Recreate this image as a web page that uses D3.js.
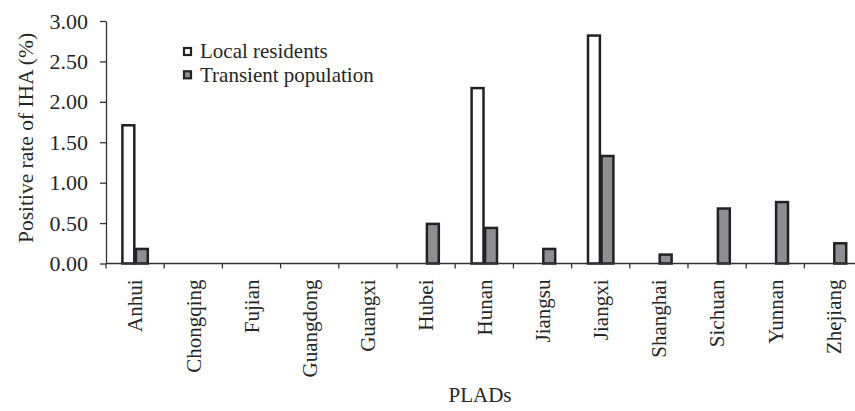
<!DOCTYPE html>
<html>
<head>
<meta charset="utf-8">
<script src="https://cdn.jsdelivr.net/npm/d3@7"></script>
<style>
  body { margin: 0; background: #fff; }
  text { font-family: "Liberation Serif", "Times New Roman", serif; fill: #262626; }
</style>
</head>
<body>
<div id="chart"></div>
<script>
var provinces = ["Anhui", "Chongqing", "Fujian", "Guangdong", "Guangxi", "Hubei", "Hunan",
                 "Jiangsu", "Jiangxi", "Shanghai", "Sichuan", "Yunnan", "Zhejiang"];
var series = ["Local residents", "Transient population"];
var localResidents = [1.71, 0, 0, 0, 0, 0, 2.17, 0, 2.82, 0, 0, 0, 0];
var transientPop   = [0.18, 0, 0, 0, 0, 0.49, 0.44, 0.18, 1.33, 0.11, 0.68, 0.76, 0.25];
var yTicks = [0, 0.5, 1, 1.5, 2, 2.5, 3];

var width = 855, height = 411,
    margin = {top: 21, left: 106, bottom: 147.5};
var plotBottom = height - margin.bottom;

var svg = d3.select("#chart").append("svg")
    .attr("width", width)
    .attr("height", height);

var x = d3.scaleBand()
    .domain(provinces)
    .range([margin.left, margin.left + 58.2 * provinces.length]);

var y = d3.scaleLinear()
    .domain([0, 3])
    .range([plotBottom, margin.top]);

var colors = d3.scaleOrdinal().domain(series).range(["#ffffff", "#8f8f91"]);

// pairs of bars, 27px wide centered in each band
var sub = d3.scaleBand().domain(series).range([-13.5, 13.5]);

var rows = provinces.map(function(p, i) {
    return {prov: p, vals: [localResidents[i], transientPop[i]]};
});

var groups = svg.append("g").selectAll("g")
    .data(rows)
    .enter().append("g")
    .attr("transform", function(d) { return "translate(" + (x(d.prov) + x.bandwidth() / 2) + ",0)"; });

groups.selectAll("rect")
    .data(function(d) {
        return d.vals.map(function(v, j) { return {s: series[j], v: v}; })
            .filter(function(e) { return e.v > 0; });
    })
    .enter().append("rect")
        .attr("x", function(d) { return sub(d.s) + 0.8; })
        .attr("width", sub.bandwidth() - 1.6)
        .attr("y", function(d) { return y(d.v); })
        .attr("height", function(d) { return plotBottom - y(d.v); })
        .attr("fill", function(d) { return colors(d.s); })
        .attr("stroke", "#222")
        .attr("stroke-width", 2.5);

// y axis
var yAxis = svg.append("g")
    .attr("transform", "translate(" + margin.left + ",0)")
    .call(d3.axisLeft(y).tickValues(yTicks).tickFormat(d3.format(".2f"))
        .tickSize(6).tickSizeOuter(0).tickPadding(12));
yAxis.select(".domain").attr("stroke", "#333").attr("stroke-width", 1.3);
yAxis.selectAll(".tick line").attr("stroke", "#333").attr("stroke-width", 1.3);
yAxis.selectAll(".tick text")
    .style("font-family", "Liberation Serif, serif")
    .style("font-size", "22px")
    .attr("fill", "#262626");

// x axis: ticks at band boundaries
var xAxis = svg.append("g");
xAxis.append("line")
    .attr("x1", margin.left).attr("x2", width)
    .attr("y1", plotBottom).attr("y2", plotBottom)
    .attr("stroke", "#333").attr("stroke-width", 1.3);
xAxis.selectAll("line.tk")
    .data(provinces)
    .enter().append("line")
        .attr("class", "tk")
        .attr("x1", function(d) { return x(d); })
        .attr("x2", function(d) { return x(d); })
        .attr("y1", plotBottom).attr("y2", plotBottom + 5)
        .attr("stroke", "#333").attr("stroke-width", 1.3);

xAxis.selectAll("text")
    .data(provinces)
    .enter().append("text")
        .attr("transform", function(d) { return "translate(" + (x(d) + x.bandwidth() / 2) + "," + (plotBottom + 16) + ")rotate(-90)"; })
        .attr("dy", "0.35em")
        .attr("text-anchor", "end")
        .style("font-size", "21px")
        .text(function(d) { return d; });

// axis titles
svg.append("text")
    .attr("transform", "translate(33,138)rotate(-90)")
    .attr("text-anchor", "middle")
    .style("font-size", "21.5px")
    .text("Positive rate of IHA (%)");

svg.append("text")
    .attr("x", 480).attr("y", 402)
    .attr("text-anchor", "middle")
    .style("font-size", "21px")
    .text("PLADs");

// legend
var legend = svg.append("g").selectAll("g")
    .data(series)
    .enter().append("g")
    .attr("transform", function(d, i) { return "translate(183," + (47 + i * 23.3) + ")"; });
legend.append("rect")
    .attr("x", 1).attr("y", 1)
    .attr("width", 7).attr("height", 7)
    .attr("fill", function(d) { return colors(d); })
    .attr("stroke", "#222")
    .attr("stroke-width", 2.2);
legend.append("text")
    .attr("x", 17).attr("y", 11.3)
    .style("font-size", "21px")
    .text(function(d) { return d; });
</script>
</body>
</html>
